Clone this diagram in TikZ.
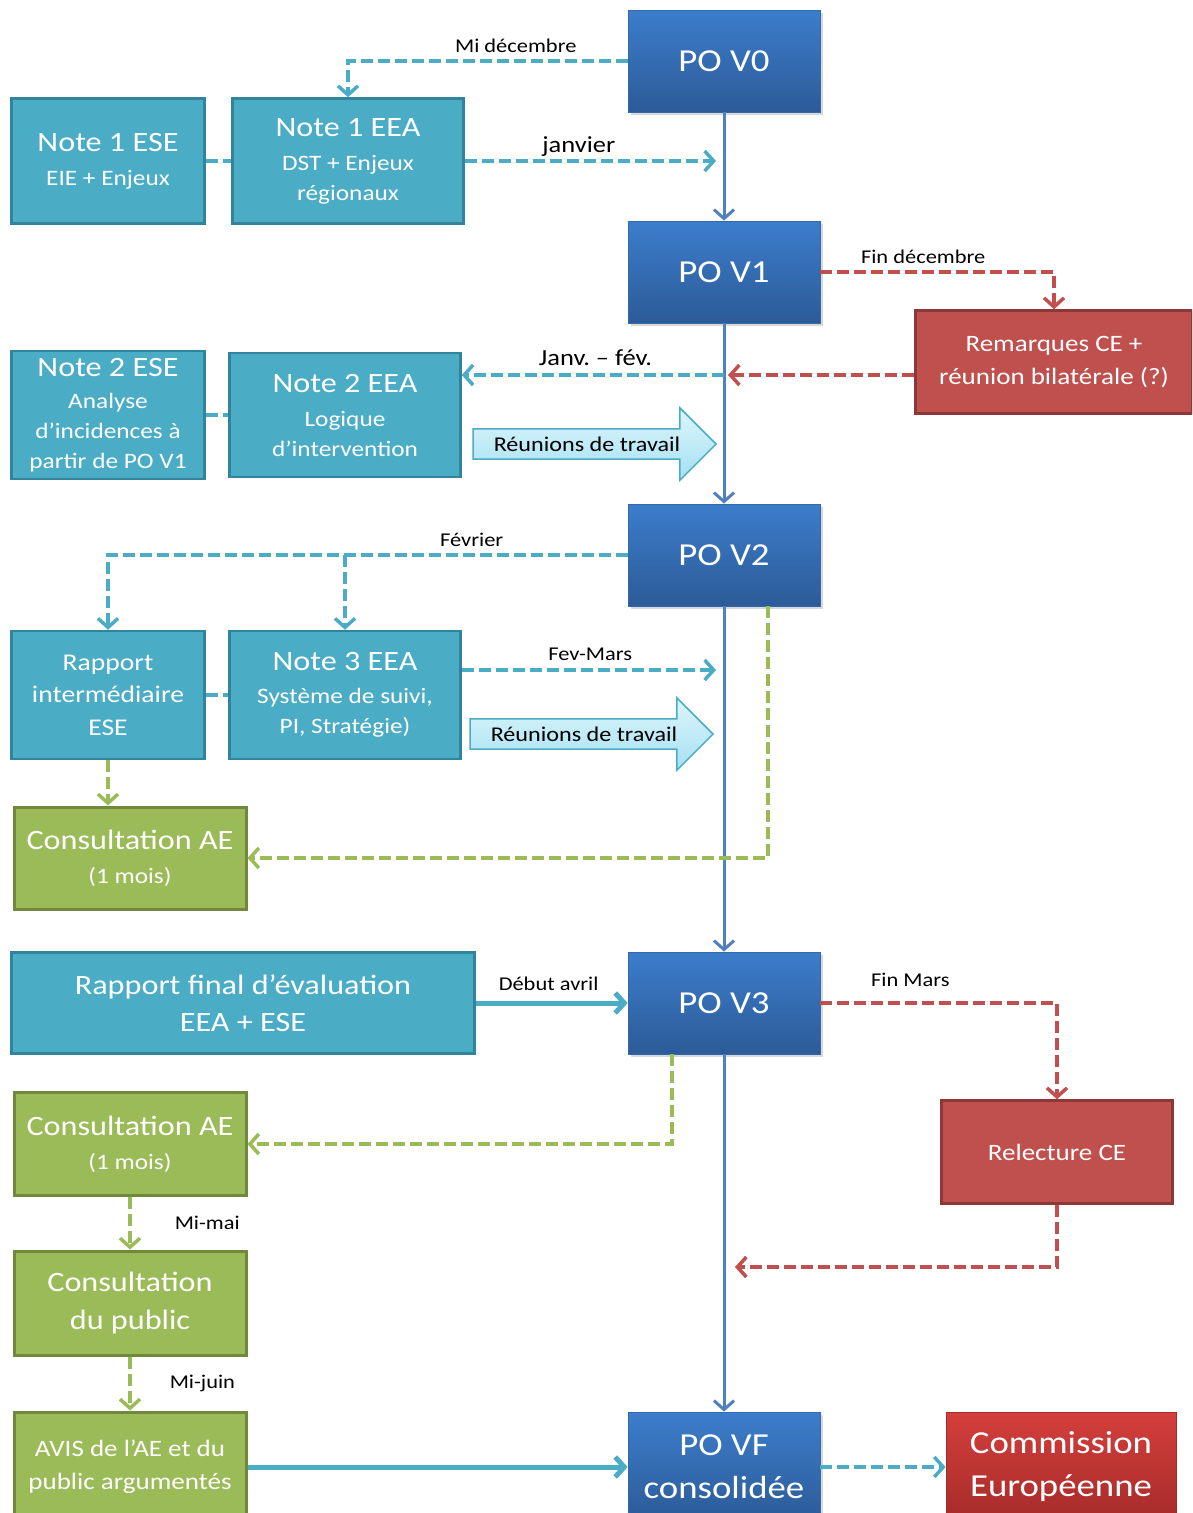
\documentclass[tikz,border=0pt]{standalone}
\usepackage{fontspec}
\setmainfont{Carlito}[FakeStretch=1.15]
\usetikzlibrary{shapes,shadows,arrows.meta}
\definecolor{aquafill}{HTML}{4BACC6}
\definecolor{aquaedge}{HTML}{31849B}
\definecolor{potop}{HTML}{3C7DCC}
\definecolor{pobot}{HTML}{2C5B97}
\definecolor{redfill}{HTML}{C0504D}
\definecolor{rededge}{HTML}{8C3836}
\definecolor{commtop}{HTML}{D43F3C}
\definecolor{commbot}{HTML}{A52B29}
\definecolor{greenfill}{HTML}{9BBB59}
\definecolor{greenedge}{HTML}{71893F}
\definecolor{reuntop}{HTML}{DDF6FC}
\definecolor{reunbot}{HTML}{A5E0F2}
\definecolor{bluelink}{HTML}{4F81BD}
\newcommand{\boxtitle}[1]{{\fontsize{28}{34}\selectfont #1}}
\tikzstyle{headed} = [-{Straight Barb[length=9pt, width=20pt]}]
\tikzstyle{dashlink} = [draw, line width=3.5pt, dash pattern=on 12pt off 5pt]
\tikzstyle{cyandash} = [dashlink, draw=aquafill]
\tikzstyle{reddash} = [dashlink, draw=redfill]
\tikzstyle{greendash} = [dashlink, draw=greenfill]
\tikzstyle{blueline} = [draw=bluelink, line width=3pt]
\tikzstyle{cyanline} = [draw=aquafill, line width=5pt]
\tikzstyle{lbl} = [text=black, inner sep=3pt, font=\fontsize{19.5}{22}\selectfont]
\tikzstyle{biglbl} = [font=\fontsize{23}{26}\selectfont]
\tikzstyle{box} = [rectangle, align=center, text=white, inner sep=2pt, font=\fontsize{22}{30}\selectfont]
\tikzstyle{aqua} = [box, draw=aquaedge, fill=aquafill, line width=2.5pt]
\tikzstyle{po} = [box, top color=potop, bottom color=pobot, draw=potop!85!black, line width=0.8pt, minimum width=192pt, minimum height=102pt, font=\fontsize{32}{43}\selectfont, drop shadow={opacity=0.3, shadow xshift=3pt, shadow yshift=-3pt}]
\tikzstyle{redbox} = [box, draw=rededge, fill=redfill, line width=2.5pt, font=\fontsize{23.5}{33}\selectfont]
\tikzstyle{commbox} = [box, top color=commtop, bottom color=commbot, draw=commbot, line width=0.8pt, font=\fontsize{32}{43}\selectfont]
\tikzstyle{greenbox} = [box, draw=greenedge, fill=greenfill, line width=3pt]
\tikzstyle{reunion} = [single arrow, draw=aquafill, line width=1.5pt, top color=reuntop, bottom color=reunbot, text=black, font=\fontsize{21}{24}\selectfont, minimum height=243pt, single arrow head extend=21pt, inner ysep=7pt]
\begin{document}
\begin{tikzpicture}[x=1pt, y=-1pt]
	\clip (0,0) rectangle (1192,1513);
	\fill [white] (0,0) rectangle (1192,1513);
	% PO versions
	\node [po] (pov0) at (724,61) {PO V0};
	\node [po] (pov1) at (724,272) {PO V1};
	\node [po] (pov2) at (724,555) {PO V2};
	\node [po] (pov3) at (724,1003) {PO V3};
	\node [po, minimum height=110pt] (povf) at (724,1467) {PO VF\\consolidée};
	
	\node [aqua, minimum width=193pt, minimum height=125pt] (note1ese) at (108,161) {\boxtitle{Note 1 ESE}\\[4pt] EIE + Enjeux};
	\node [aqua, right of=note1ese, node distance=240pt, minimum width=231pt, minimum height=125pt] (note1eea) {\boxtitle{Note 1 EEA}\\[4pt] DST + Enjeux\\ régionaux};
	\node [redbox, minimum width=277pt, minimum height=103pt] (rem) at (1054,362) {Remarques CE +\\ réunion bilatérale (?)};
	\node [aqua, minimum width=193pt, minimum height=128pt] (note2ese) at (108,415) {\boxtitle{Note 2 ESE}\\[2pt] Analyse\\ d’incidences à\\ partir de PO V1};
	\node [aqua, right of=note2ese, node distance=237pt, minimum width=231pt, minimum height=124pt] (note2eea) {\boxtitle{Note 2 EEA}\\[4pt] Logique\\ d’intervention};
	\node [reunion] (reun1) at (587,444) {Réunions de travail};
	
	\node [aqua, minimum width=193pt, minimum height=128pt, font=\fontsize{24}{32.5}\selectfont] (rapport) at (108,695) {Rapport\\ intermédiaire\\ ESE};
	\node [aqua, right of=rapport, node distance=237pt, minimum width=231pt, minimum height=128pt] (note3) {\boxtitle{Note 3 EEA}\\[3pt] Système de suivi,\\ PI, Stratégie)};
	\node [reunion] (reun2) at (584,734) {Réunions de travail};
	\node [greenbox, minimum width=232pt, minimum height=102pt] (cons1) at (130,858) {\boxtitle{Consultation AE}\\[4pt] (1 mois)};
	
	\node [aqua, minimum width=463pt, minimum height=101pt, font=\fontsize{28}{37}\selectfont] (rfinal) at (243,1003) {Rapport final d’évaluation\\ EEA + ESE};
	\node [redbox, minimum width=231pt, minimum height=103pt] (relec) at (1057,1152) {Relecture CE};
	\node [greenbox, minimum width=232pt, minimum height=103pt] (cons2) at (130,1144) {\boxtitle{Consultation AE}\\[4pt] (1 mois)};
	\node [greenbox, minimum width=232pt, minimum height=104pt, font=\fontsize{28}{38}\selectfont] (public) at (130,1303) {Consultation\\ du public};
	\node [greenbox, minimum width=232pt, minimum height=110pt, font=\fontsize{23.5}{33}\selectfont] (avis) at (130,1467) {AVIS de l’AE et du\\ public argumentés};
	\node [commbox, minimum width=230pt, minimum height=110pt] (comm) at (1061,1467) {Commission\\ Européenne};
	
	% main line
	\draw [blueline, headed] (pov0) -- (pov1);
	\draw [blueline, headed] (pov1) -- (pov2);
	\draw [blueline, headed] (pov2) -- (pov3);
	\draw [blueline, headed] (pov3) -- (povf);
	
	% V0 -> V1
	\draw [cyandash, headed] (pov0.west) -| (note1eea.north) node [lbl, pos=0.2, above=4pt] (lmidec) {Mi décembre};
	\draw [cyandash] (note1ese) -- (note1eea);
	\draw [cyandash, headed, shorten >=8pt] (note1eea.east) -- (note1eea.east -| pov0) node [lbl, biglbl, pos=0.44, above] (ljanv) {janvier};
	
	% V1 -> V2
	\coordinate (jf) at (724,375);
	\draw [reddash, headed] (pov1.east) -| (rem.north) node [lbl, pos=0.22, above=4pt] (lfindec) {Fin décembre};
	\draw [reddash, headed, shorten >=4pt] ([yshift=-13pt]rem.west) -- (jf);
	\draw [cyandash, headed] (jf) -- (jf -| note2eea.east) node [lbl, biglbl, pos=0.49, above=5pt] (ljf) {Janv.\ – fév.};
	\draw [cyandash] (note2ese) -- (note2eea);
	
	% V2 -> V3
	\draw [cyandash, headed] (pov2.west) -| (rapport.north) node [lbl, pos=0.15, above=4pt] (lfev) {Février};
	\draw [cyandash, headed] (pov2.west -| note3.north) -- (note3.north);
	\draw [cyandash] (rapport) -- (note3);
	\draw [cyandash, headed, shorten >=8pt] ([yshift=25pt]note3.east) -- ([yshift=25pt]note3.east -| pov2) node [lbl, pos=0.49, above=5pt] (lfevmars) {Fev-Mars};
	\draw [greendash, headed] ([xshift=44pt]pov2.south) |- (cons1.east);
	\draw [greendash, headed] (rapport.south) -- (rapport.south |- cons1.north);
	
	% V3 -> VF
	\coordinate (rl) at (724,1267);
	\draw [cyanline, headed] (rfinal) -- (pov3) node [lbl, pos=0.48, above=7pt] (ldebavr) {Début avril};
	\draw [reddash, headed] (pov3.east) -| (relec.north) node [lbl, pos=0.19, above=12pt] (lfinmars) {Fin Mars};
	\draw [greendash, headed] ([xshift=-52pt]pov3.south) |- (cons2.east);
	\draw [reddash, headed, shorten >=11pt] (relec.south) |- (rl);
	\draw [greendash, headed] (cons2) -- (public) node [lbl, midway, right, xshift=40pt] (lmimai) {Mi-mai};
	\draw [greendash, headed] (public) -- (avis) node [lbl, midway, right, xshift=35pt] (lmijuin) {Mi-juin};
	\draw [cyanline, headed] (avis) -- (povf);
	\draw [cyandash, headed] (povf) -- (comm);
\end{tikzpicture}
\end{document}
